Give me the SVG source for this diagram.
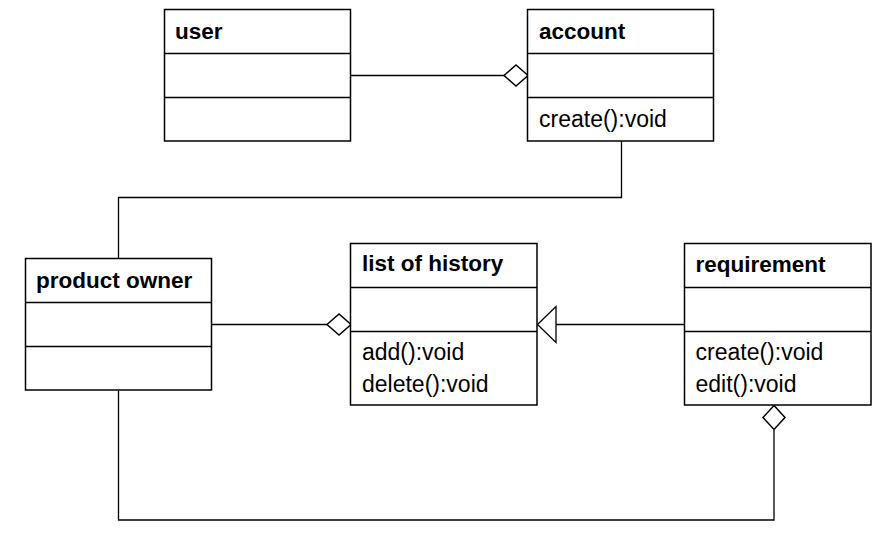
<svg xmlns="http://www.w3.org/2000/svg" width="886" height="546" viewBox="0 0 886 546">
<style>
.box{fill:#fff;stroke:#000;stroke-width:1.5}
.sep{stroke:#000;stroke-width:1.5}
.t{font-family:"Liberation Sans",Arial,sans-serif;font-size:23px;fill:#000}
.b{font-weight:bold;font-size:22.5px}
.c{fill:none;stroke:#000;stroke-width:1.3}
.d{fill:#fff;stroke:#000;stroke-width:1.5}
</style>
<rect width="886" height="546" fill="#fff"/>
<g id="connectors">
<line class="c" x1="350" y1="75.5" x2="504" y2="75.5"/>
<polygon class="d" points="504,75.5 516,65 528,75.5 516,86"/>
<polyline class="c" points="621.5,141 621.5,197.5 118.5,197.5 118.5,258.5"/>
<line class="c" x1="211.5" y1="324.5" x2="327" y2="324.5"/>
<polygon class="d" points="327,324.5 339,314 351,324.5 339,335"/>
<line class="c" x1="556" y1="324.5" x2="684.5" y2="324.5"/>
<polygon class="c" points="537.5,324.5 556,306.5 556,342.5"/>
<polyline class="c" points="118.5,390.5 118.5,520 774,520 774,430"/>
<polygon class="d" points="774,405.5 785,417.5 774,429.5 763,417.5"/>
</g>
<g id="user">
<rect class="box" x="164.5" y="9.5" width="186" height="131.5"/>
<line class="sep" x1="164.5" y1="53.5" x2="350.5" y2="53.5"/>
<line class="sep" x1="164.5" y1="97.5" x2="350.5" y2="97.5"/>
<text class="t b" x="175" y="39">user</text>
</g>
<g id="account">
<rect class="box" x="527.5" y="9.5" width="186" height="131.5"/>
<line class="sep" x1="527.5" y1="53.5" x2="713.5" y2="53.5"/>
<line class="sep" x1="527.5" y1="97.5" x2="713.5" y2="97.5"/>
<text class="t b" x="539" y="38.5">account</text>
<text class="t" x="539" y="127">create():void</text>
</g>
<g id="product_owner">
<rect class="box" x="25.5" y="258.5" width="186" height="131.5"/>
<line class="sep" x1="25.5" y1="302.5" x2="211.5" y2="302.5"/>
<line class="sep" x1="25.5" y1="346.5" x2="211.5" y2="346.5"/>
<text class="t b" x="36" y="288">product owner</text>
</g>
<g id="list_of_history">
<rect class="box" x="350.5" y="243.5" width="186.5" height="161.5"/>
<line class="sep" x1="350.5" y1="287.5" x2="537" y2="287.5"/>
<line class="sep" x1="350.5" y1="331.5" x2="537" y2="331.5"/>
<text class="t b" x="362" y="271">list of history</text>
<text class="t" x="362" y="360">add():void</text>
<text class="t" x="362" y="391.5">delete():void</text>
</g>
<g id="requirement">
<rect class="box" x="684.5" y="243.5" width="186.5" height="161.5"/>
<line class="sep" x1="684.5" y1="287.5" x2="871" y2="287.5"/>
<line class="sep" x1="684.5" y1="331.5" x2="871" y2="331.5"/>
<text class="t b" x="695.5" y="271.5">requirement</text>
<text class="t" x="695.5" y="360">create():void</text>
<text class="t" x="695.5" y="391.5">edit():void</text>
</g>
</svg>
